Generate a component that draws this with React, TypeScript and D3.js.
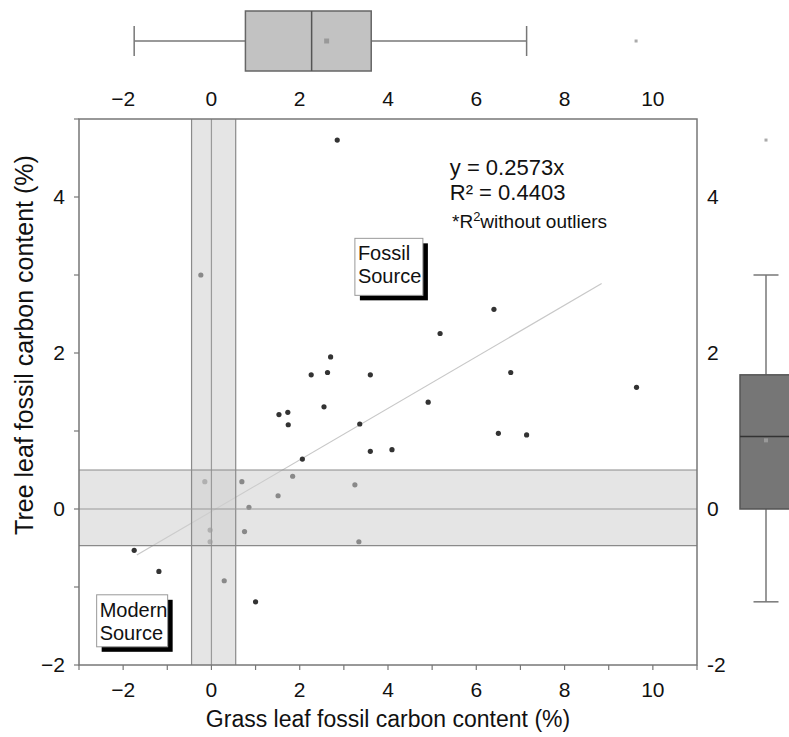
import React from "react";
import * as d3 from "d3";

// Scatter data (grass x, tree y)
const grassX = [2.85, -0.24, 2.70, 2.26, 2.63, 3.60, 2.55, 1.53, 1.73, 1.74, 3.36, 3.60, 2.06, 1.84, -0.15, 0.69, 1.51, 3.25, 0.85, -0.03, 0.75, -0.03, 3.34, -1.75, -1.19, 0.29, 1.00, 6.40, 5.18, 6.78, 4.91, 9.63, 6.50, 7.14, 4.09];
const treeY = [4.73, 3.00, 1.95, 1.72, 1.75, 1.72, 1.31, 1.21, 1.24, 1.08, 1.09, 0.74, 0.64, 0.42, 0.35, 0.35, 0.17, 0.31, 0.02, -0.27, -0.29, -0.42, -0.42, -0.53, -0.80, -0.92, -1.19, 2.56, 2.25, 1.75, 1.37, 1.56, 0.97, 0.95, 0.76];

// Trend line endpoints
const trendX = [-1.69, 8.84];
const trendY = [-0.59, 2.89];

// "Modern" bands
const xBand = [-0.45, 0.55];
const yBand = [-0.47, 0.5];

// Box plot stats: [min, q1, median, q3, max]
const grassBox = [-1.75, 0.77, 2.27, 3.62, 7.14];
const grassMean = 2.61;
const grassOutliers = [9.62];
const treeBox = [-1.19, 0.0, 0.93, 1.72, 3.0];
const treeMean = 0.88;
const treeOutliers = [4.73];

const xTickLabels = [-2, 0, 2, 4, 6, 8, 10];
const yTickLabels = [-2, 0, 2, 4];
const rightLabels = ["-2", "0", "2", "4"];
const equationLines = ["y = 0.2573x", "R² = 0.4403"];

const FONT = "'Liberation Sans', Arial, Helvetica, sans-serif";
const fmt = (v: number) => (v < 0 ? "\u2212" + Math.abs(v) : String(v));

export default function App() {
  const x = d3.scaleLinear().domain([-3, 11]).range([79, 697]);
  const y = d3.scaleLinear().domain([-2, 5]).range([665, 119]);
  const [x0, x1] = x.range();
  const [y0, y1] = y.range();

  const line = d3
    .line<number>()
    .x((_, i) => x(trendX[i]))
    .y((_, i) => y(trendY[i]));

  // top box plot geometry
  const tbTop = 11, tbBot = 71, tbMid = 41, capH = 15;
  // right box plot geometry
  const rbCx = 766, rbHalf = 26, rCap = 12.5;

  const label = (lx: number, ly: number, l1: string, l2: string, w: number, h: number) => (
    <g>
      <rect x={lx + 5} y={ly + 5} width={w} height={h} fill="#000" />
      <rect x={lx} y={ly} width={w} height={h} fill="#fff" stroke="#999" strokeWidth={1} />
      <text x={lx + 3} y={ly + 22} fontSize={20} fill="#111" fontFamily={FONT}>{l1}</text>
      <text x={lx + 3} y={ly + 45} fontSize={20} fill="#111" fontFamily={FONT}>{l2}</text>
    </g>
  );

  return (
    <svg width={789} height={737} style={{ position: "absolute", left: 0, top: 0, background: "#fff" }} fontFamily={FONT}>
      <rect width={789} height={737} fill="#fff" />

      {/* Top box plot */}
      <g>
        <line x1={x(grassBox[0])} x2={x(grassBox[1])} y1={tbMid} y2={tbMid} stroke="#777" strokeWidth={1.5} />
        <line x1={x(grassBox[3])} x2={x(grassBox[4])} y1={tbMid} y2={tbMid} stroke="#777" strokeWidth={1.5} />
        <line x1={x(grassBox[0])} x2={x(grassBox[0])} y1={tbMid - capH} y2={tbMid + capH} stroke="#777" strokeWidth={1.5} />
        <line x1={x(grassBox[4])} x2={x(grassBox[4])} y1={tbMid - capH} y2={tbMid + capH} stroke="#777" strokeWidth={1.5} />
        <rect x={x(grassBox[1])} y={tbTop} width={x(grassBox[3]) - x(grassBox[1])} height={tbBot - tbTop} fill="#c2c2c2" stroke="#666" strokeWidth={1.5} />
        <line x1={x(grassBox[2])} x2={x(grassBox[2])} y1={tbTop} y2={tbBot} stroke="#555" strokeWidth={1.5} />
        <rect x={x(grassMean) - 2.5} y={tbMid - 2.5} width={5} height={5} fill="#999" />
        {grassOutliers.map((o, i) => (
          <rect key={i} x={x(o) - 1.5} y={tbMid - 1.5} width={3} height={3} fill="#aaa" />
        ))}
        {xTickLabels.map((t) => (
          <text key={t} x={x(t)} y={106} textAnchor="middle" fontSize={21} fill="#111">{fmt(t)}</text>
        ))}
      </g>

      {/* Right box plot */}
      <g>
        <line x1={rbCx} x2={rbCx} y1={y(treeBox[0])} y2={y(treeBox[1])} stroke="#777" strokeWidth={1.5} />
        <line x1={rbCx} x2={rbCx} y1={y(treeBox[3])} y2={y(treeBox[4])} stroke="#777" strokeWidth={1.5} />
        <line x1={rbCx - rCap} x2={rbCx + rCap} y1={y(treeBox[0])} y2={y(treeBox[0])} stroke="#777" strokeWidth={1.5} />
        <line x1={rbCx - rCap} x2={rbCx + rCap} y1={y(treeBox[4])} y2={y(treeBox[4])} stroke="#777" strokeWidth={1.5} />
        <rect x={rbCx - rbHalf} y={y(treeBox[3])} width={rbHalf * 2} height={y(treeBox[1]) - y(treeBox[3])} fill="#767676" stroke="#555" strokeWidth={1.5} />
        <line x1={rbCx - rbHalf} x2={rbCx + rbHalf} y1={y(treeBox[2])} y2={y(treeBox[2])} stroke="#333" strokeWidth={1.5} />
        <rect x={rbCx - 2} y={y(treeMean) - 2} width={4} height={4} fill="#999" />
        {treeOutliers.map((o, i) => (
          <rect key={i} x={rbCx - 1.5} y={y(o) - 1.5} width={3} height={3} fill="#aaa" />
        ))}
        {yTickLabels.map((t, i) => (
          <text key={t} x={707} y={y(t)} dy="0.35em" fontSize={21} fill="#111">{rightLabels[i]}</text>
        ))}
      </g>

      {/* Main scatter */}
      <g>
        <path d={line(trendX) || ""} stroke="#c8c8c8" strokeWidth={1.2} fill="none" />
        {grassX.map((gx, i) => (
          <circle key={i} cx={x(gx)} cy={y(treeY[i])} r={2.6} fill="#333" />
        ))}
        {/* bands overlay */}
        <rect x={x(xBand[0])} y={y1} width={x(xBand[1]) - x(xBand[0])} height={y0 - y1} fill="#d0d0d0" fillOpacity={0.55} />
        <rect x={x0} y={y(yBand[1])} width={x1 - x0} height={y(yBand[0]) - y(yBand[1])} fill="#d0d0d0" fillOpacity={0.55} />
        {xBand.map((b, i) => (
          <line key={"xb" + i} x1={x(b)} x2={x(b)} y1={y1} y2={y0} stroke="#8a8a8a" strokeWidth={1.2} />
        ))}
        <line x1={x(0)} x2={x(0)} y1={y1} y2={y0} stroke="#9a9a9a" strokeWidth={1.2} />
        {yBand.map((b, i) => (
          <line key={"yb" + i} x1={x0} x2={x1} y1={y(b)} y2={y(b)} stroke="#8a8a8a" strokeWidth={1.2} />
        ))}
        <line x1={x0} x2={x1} y1={y(0)} y2={y(0)} stroke="#9a9a9a" strokeWidth={1.2} />

        {/* frame */}
        <rect x={x0} y={y1} width={x1 - x0} height={y0 - y1} fill="none" stroke="#777" strokeWidth={1.5} />

        {/* x ticks */}
        {d3.range(-3, 12).map((t) => (
          <line key={"xt" + t} x1={x(t)} x2={x(t)} y1={y0} y2={y0 + 5} stroke="#777" strokeWidth={1.2} />
        ))}
        {xTickLabels.map((t) => (
          <text key={"xl" + t} x={x(t)} y={697} textAnchor="middle" fontSize={21} fill="#111">{fmt(t)}</text>
        ))}
        {/* y ticks */}
        {d3.range(-2, 6).map((t) => (
          <line key={"yt" + t} x1={x0 - 5} x2={x0} y1={y(t)} y2={y(t)} stroke="#777" strokeWidth={1.2} />
        ))}
        {yTickLabels.map((t) => (
          <text key={"yl" + t} x={65} y={y(t)} dy="0.35em" textAnchor="end" fontSize={21} fill="#111">{fmt(t)}</text>
        ))}

        {/* equation */}
        {equationLines.map((s, i) => (
          <text key={s} x={x(5.4)} y={175 + i * 25} fontSize={22} fill="#111">{s}</text>
        ))}
        <text x={x(5.45)} y={228} fontSize={19} fill="#111">
          *R<tspan fontSize={13} dy={-7}>2</tspan><tspan dy={7}>without outliers</tspan>
        </text>

        {/* annotation boxes */}
        {label(x(3.25), y(3.47), "Fossil", "Source", 68, 57)}
        {label(x(-2.6), y(-1.1), "Modern", "Source", 71, 52)}
      </g>

      {/* axis titles */}
      <text x={(x0 + x1) / 2} y={727} textAnchor="middle" fontSize={23} fill="#111">Grass leaf fossil carbon content (%)</text>
      <text transform={`translate(33, 345) rotate(-90)`} textAnchor="middle" fontSize={25} fill="#111">Tree leaf fossil carbon content (%)</text>
    </svg>
  );
}
